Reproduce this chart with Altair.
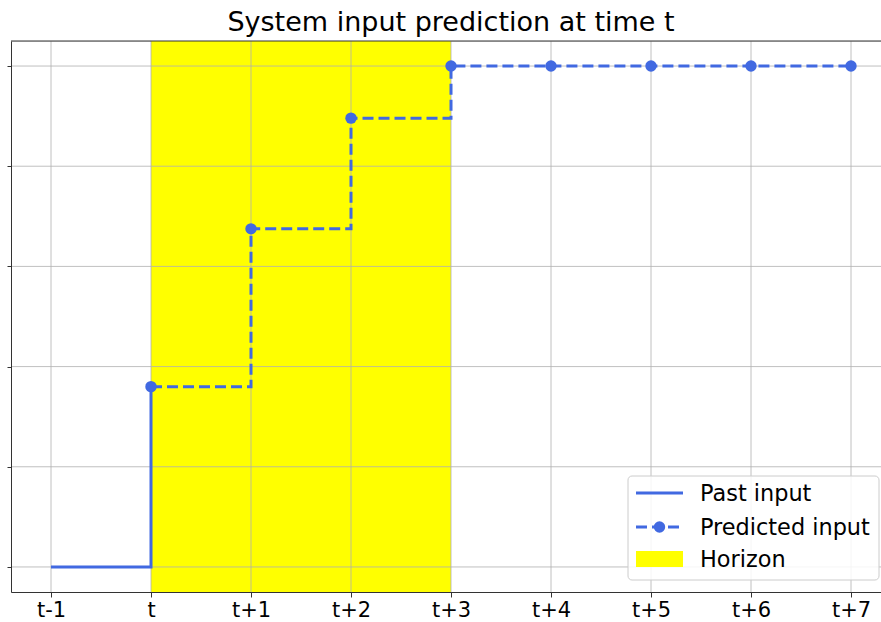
import altair as alt
import pandas as pd

tick_labels = ["t-1", "t", "t+1", "t+2", "t+3", "t+4", "t+5", "t+6", "t+7"]
x_ticks = [-1, 0, 1, 2, 3, 4, 5, 6, 7]
past_x = [-1, 0]
past_y = [0.0, 0.36]
pred_x = [0, 1, 2, 3, 4, 5, 6, 7]
pred_y = [0.36, 0.675, 0.896, 1.0, 1.0, 1.0, 1.0, 1.0]
horizon_start = [0]
horizon_end = [3]
y_ticks = [0.0, 0.2, 0.4, 0.6, 0.8, 1.0]
legend_labels = ["Past input", "Predicted input", "Horizon"]
title_text = "System input prediction at time t"

BLUE = "#4169e1"
GRID = "#b0b0b0"
W, H = 870, 551
FONT = "DejaVu Sans"

past_df = pd.DataFrame({"x": past_x, "y": past_y})
pred_df = pd.DataFrame({"x": pred_x, "y": pred_y})
hor_df = pd.DataFrame({"x": horizon_start, "x2": horizon_end})
xg_df = pd.DataFrame({"x": x_ticks})
yg_df = pd.DataFrame({"y": y_ticks})

label_arr = "[" + ",".join("'" + s + "'" for s in tick_labels) + "]"

xscale = alt.Scale(domain=[-1.4, 7.3], nice=False, zero=False)
yscale = alt.Scale(domain=[-0.05, 1.05], nice=False, zero=False)

xaxis = alt.Axis(values=x_ticks, labelExpr=label_arr + "[datum.value + 1]",
                 title=None, grid=False,
                 tickSize=5, tickColor="#333", domainColor="#333", domainWidth=1,
                 labelFont=FONT, labelFontSize=21, labelColor="black", labelPadding=2,
                 labelBaseline="top", zindex=1)
yaxis = alt.Axis(values=y_ticks, labels=False, title=None, grid=False,
                 tickSize=4, tickColor="#333",
                 domainColor="#333", domainWidth=1, zindex=1)

horizon = alt.Chart(hor_df).mark_rect(color="#ffff00", opacity=1).encode(
    x=alt.X("x:Q", scale=xscale, axis=xaxis),
    x2="x2:Q",
    y=alt.value(0),
    y2=alt.value(H),
)

xgrid = alt.Chart(xg_df).mark_rule(color=GRID, strokeWidth=0.8).encode(
    x=alt.X("x:Q", scale=xscale, axis=xaxis), y=alt.value(0), y2=alt.value(H)
)
ygrid = alt.Chart(yg_df).mark_rule(color=GRID, strokeWidth=0.8).encode(
    y=alt.Y("y:Q", scale=yscale, axis=yaxis), x=alt.value(0), x2=alt.value(W)
)

past = alt.Chart(past_df).mark_line(color=BLUE, strokeWidth=3, interpolate="step-after").encode(
    x=alt.X("x:Q", scale=xscale, axis=xaxis),
    y=alt.Y("y:Q", scale=yscale, axis=yaxis),
)

pred_line = alt.Chart(pred_df).mark_line(color=BLUE, strokeWidth=3, strokeDash=[11, 5],
                                         interpolate="step-after").encode(
    x=alt.X("x:Q", scale=xscale, axis=xaxis),
    y=alt.Y("y:Q", scale=yscale, axis=yaxis),
)
pred_pts = alt.Chart(pred_df).mark_circle(color=BLUE, size=130, opacity=1).encode(
    x=alt.X("x:Q", scale=xscale, axis=xaxis),
    y=alt.Y("y:Q", scale=yscale, axis=yaxis),
)

top_spine = alt.Chart(pd.DataFrame({"a": [0]})).mark_rule(color="#333", strokeWidth=1).encode(
    x=alt.value(0), x2=alt.value(W), y=alt.value(0)
)

# Legend (manual)
one = pd.DataFrame({"a": [0]})
lg_box = alt.Chart(one).mark_rect(fill="white", fillOpacity=0.85, stroke="#cccccc",
                                  strokeWidth=1, cornerRadius=4).encode(
    x=alt.value(617), x2=alt.value(868), y=alt.value(435), y2=alt.value(539)
)
lg_past = alt.Chart(one).mark_rule(color=BLUE, strokeWidth=3).encode(
    x=alt.value(625), x2=alt.value(672), y=alt.value(452)
)
lg_pred = alt.Chart(one).mark_rule(color=BLUE, strokeWidth=3, strokeDash=[11, 5]).encode(
    x=alt.value(625), x2=alt.value(672), y=alt.value(486)
)
lg_pt = alt.Chart(one).mark_circle(color=BLUE, size=130, opacity=1).encode(
    x=alt.value(648.5), y=alt.value(486)
)
lg_hor = alt.Chart(one).mark_rect(color="#ffff00").encode(
    x=alt.value(625), x2=alt.value(672), y=alt.value(510), y2=alt.value(526)
)
lg_texts = [
    alt.Chart(one).mark_text(align="left", baseline="middle", font=FONT, fontSize=22.4,
                             color="black").encode(
        x=alt.value(689), y=alt.value(yy), text=alt.value(txt))
    for txt, yy in zip(legend_labels, [453, 487, 519])
]

chart = alt.layer(horizon, xgrid, ygrid, past, pred_line, pred_pts, top_spine, lg_box,
                  lg_past, lg_pred, lg_pt, lg_hor, *lg_texts).properties(
    width=W, height=H,
    title=alt.TitleParams(title_text, font=FONT, fontSize=27, fontWeight="normal",
                          color="black", offset=4, dx=5),
    autosize=alt.AutoSizeParams(type="none"),
    padding={"left": 11, "top": 41, "right": 0, "bottom": 30},
).configure_view(stroke=None).configure(background="white")

chart.save("out.html", embed_options={"renderer": "svg", "actions": False})
